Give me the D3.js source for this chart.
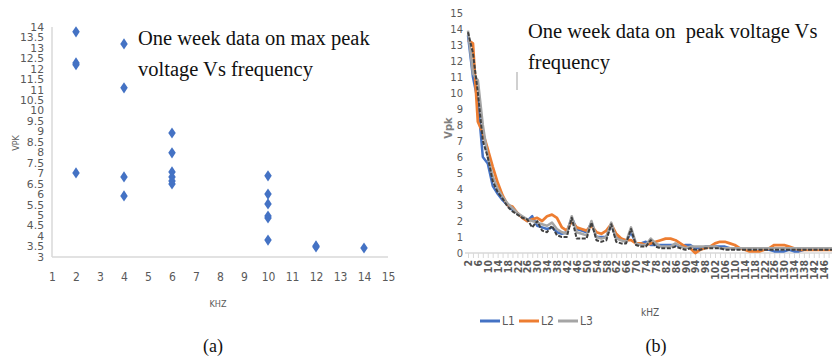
<!DOCTYPE html>
<html>
<head>
<meta charset="utf-8">
<script src="https://cdn.jsdelivr.net/npm/d3@7"></script>
<style>
  body { margin: 0; background: #fff; }
  svg { display: block; }
  .axis text { fill: #595959; }
</style>
</head>
<body>
<div class="chart"></div>
<script>
// (a) scatter: max peak voltage per frequency
const freqA = [2, 2, 2, 2, 4, 4, 4, 4, 6, 6, 6, 6, 6, 6, 10, 10, 10, 10, 10, 10, 12, 12, 14];
const vpkA = [13.77, 12.28, 12.2, 7.02, 13.19, 11.09, 6.83, 5.92, 8.93, 7.98, 7.07, 6.83, 6.64, 6.49,
              6.88, 6.01, 5.54, 4.96, 4.87, 3.81, 3.53, 3.48, 3.43];
const xTicksA = [1, 2, 3, 4, 5, 6, 7, 8, 9, 10, 11, 12, 13, 14, 15];
const yTicksA = [3, 3.5, 4, 4.5, 5, 5.5, 6, 6.5, 7, 7.5, 8, 8.5, 9, 9.5, 10, 10.5, 11, 11.5, 12, 12.5, 13, 13.5, 14];

// (b) lines: peak voltage vs frequency
const freqB = [2, 4, 6, 8, 10, 12, 14, 16, 18, 20, 22, 24, 26, 28, 30, 32, 34, 36, 38, 40,
               42, 44, 46, 48, 50, 52, 54, 56, 58, 60, 62, 64, 66, 68, 70, 72, 74, 76, 78, 80,
               82, 84, 86, 88, 90, 92, 94, 96, 98, 100, 102, 104, 106, 108, 110, 112, 114, 116, 118, 120,
               122, 124, 126, 128, 130, 132, 134, 136, 138, 140, 142, 144, 146, 148, 150];
const l1 = [13.6, 11.0, 9.5, 6.0, 5.6, 4.2, 3.7, 3.3, 3.0, 2.7,
            2.5, 2.2, 2.0, 2.3, 1.7, 1.6, 1.5, 1.6, 1.3, 1.2,
            1.3, 2.2, 1.5, 1.4, 1.3, 1.9, 1.0, 1.0, 1.0, 1.8,
            0.9, 0.9, 0.7, 1.3, 0.6, 0.6, 0.7, 0.5, 0.5, 0.5,
            0.5, 0.5, 0.5, 0.4, 0.5, 0.5, 0.3, 0.3, 0.4, 0.4,
            0.4, 0.4, 0.4, 0.3, 0.3, 0.3, 0.3, 0.3, 0.3, 0.3,
            0.2, 0.2, 0.1, 0.1, 0.1, 0.2, 0.1, 0.1, 0.2, 0.2,
            0.2, 0.2, 0.2, 0.2, 0.2];
const l2 = [13.3, 13.1, 8.2, 7.5, 6.5, 5.4, 4.4, 3.6, 3.0, 2.9,
            2.5, 2.2, 2.0, 2.1, 2.2, 2.0, 2.3, 2.4, 2.2, 1.6,
            1.4, 2.0, 1.6, 1.5, 1.4, 1.7, 1.3, 1.2, 1.4, 1.8,
            1.2, 0.9, 0.8, 0.8, 0.6, 0.6, 0.5, 0.6, 0.7, 0.8,
            0.9, 0.9, 0.8, 0.6, 0.4, 0.3, 0.0, 0.2, 0.3, 0.4,
            0.6, 0.7, 0.7, 0.6, 0.5, 0.3, 0.2, 0.1, 0.1, 0.1,
            0.2, 0.3, 0.5, 0.5, 0.5, 0.4, 0.3, 0.2, 0.2, 0.2,
            0.2, 0.2, 0.2, 0.2, 0.2];
const l3 = [13.9, 11.2, 10.8, 8.0, 6.0, 4.8, 4.0, 3.5, 3.1, 2.8,
            2.5, 2.3, 2.1, 2.0, 1.9, 1.8, 1.7, 1.9, 1.5, 1.3,
            1.2, 2.3, 1.3, 1.2, 1.1, 2.0, 1.0, 0.9, 1.0, 1.9,
            0.9, 0.8, 0.7, 1.6, 0.6, 0.5, 0.5, 0.9, 0.6, 0.4,
            0.4, 0.4, 0.6, 0.4, 0.3, 0.4, 0.4, 0.4, 0.4, 0.4,
            0.4, 0.3, 0.3, 0.3, 0.3, 0.3, 0.3, 0.3, 0.3, 0.3,
            0.3, 0.3, 0.3, 0.3, 0.3, 0.3, 0.3, 0.3, 0.3, 0.3,
            0.3, 0.3, 0.3, 0.3, 0.3];
const l4 = [13.8, 12.5, 10.0, 7.0, 6.0, 4.5, 3.8, 3.4, 2.9, 2.6,
            2.4, 2.2, 2.1, 1.6, 2.0, 1.4, 1.3, 1.7, 1.1, 1.0,
            1.0, 2.2, 0.9, 0.9, 0.9, 1.9, 0.8, 0.7, 0.8, 1.8,
            0.7, 0.6, 0.6, 1.5, 0.5, 0.4, 0.4, 0.8, 0.4, 0.3,
            0.3, 0.3, 0.4, 0.3, 0.2, 0.3, 0.2, 0.2, 0.3, 0.3,
            0.3, 0.3, 0.2, 0.2, 0.2, 0.2, 0.2, 0.2, 0.2, 0.2,
            0.2, 0.2, 0.2, 0.2, 0.2, 0.2, 0.2, 0.2, 0.2, 0.2,
            0.2, 0.2, 0.2, 0.2, 0.2];
const xTicksB = [2, 6, 10, 14, 18, 22, 26, 30, 34, 38, 42, 46, 50, 54, 58, 62, 66, 70, 74, 78,
                 82, 86, 90, 94, 98, 102, 106, 110, 114, 118, 122, 126, 130, 134, 138, 142, 146];
const yTicksB = [0, 1, 2, 3, 4, 5, 6, 7, 8, 9, 10, 11, 12, 13, 14, 15];
const seriesNames = ["L1", "L2", "L3"];

const W = 832, H = 360;
const serif = "'Liberation Serif', 'Times New Roman', serif";
const narrow = "'Liberation Sans Narrow', 'DejaVu Sans Condensed', 'Liberation Sans', sans-serif";

const svg = d3.select('.chart').append('svg')
    .attr('width', W)
    .attr('height', H);

// ---------- (a) ----------
const xA = d3.scaleLinear().domain([1, 15]).range([52, 388]);
const yA = d3.scaleLinear().domain([3, 14]).range([257, 27]);

svg.append('line')
    .attr('x1', xA(1)).attr('x2', xA(1))
    .attr('y1', yA(14)).attr('y2', yA(3))
    .attr('stroke', '#d9d9d9').attr('stroke-width', 1.5);
svg.append('line')
    .attr('x1', xA(1)).attr('x2', xA(15))
    .attr('y1', yA(3)).attr('y2', yA(3))
    .attr('stroke', '#d9d9d9').attr('stroke-width', 1.5);

svg.append('g').attr('class', 'axis')
    .attr('transform', `translate(0,${yA(3)})`)
    .call(d3.axisBottom(xA).tickValues(xTicksA).tickSize(0).tickPadding(15))
    .call(g => g.select('.domain').remove())
    .call(g => g.selectAll('text').style('font', `12px ${narrow}`));

svg.append('g').attr('class', 'axis')
    .attr('transform', `translate(${xA(1)},0)`)
    .call(d3.axisLeft(yA).tickValues(yTicksA).tickSize(0).tickPadding(8).tickFormat(d3.format('~g')))
    .call(g => g.select('.domain').remove())
    .call(g => g.selectAll('text').style('font', `12px ${narrow}`)
        .attr('transform', 'scale(1,0.85)'));

svg.append('g')
    .selectAll('path')
    .data(freqA.map((f, i) => ({f, v: vpkA[i]})))
    .join('path')
    .attr('transform', d => `translate(${xA(d.f)},${yA(d.v)}) scale(1.1,0.95)`)
    .attr('d', d3.symbol(d3.symbolDiamond, 40))
    .attr('fill', '#4472c4');

svg.append('text')
    .attr('transform', 'translate(19,143) rotate(-90)')
    .attr('text-anchor', 'middle')
    .style('font', `9px ${narrow}`).attr('fill', '#595959')
    .text('VPK');
svg.append('text')
    .attr('x', 218).attr('y', 307)
    .attr('text-anchor', 'middle')
    .style('font', `9px ${narrow}`).attr('fill', '#595959')
    .text('KHZ');

svg.append('text')
    .attr('x', 138).attr('y', 45)
    .style('font', `20.5px ${serif}`).attr('fill', '#111')
    .text('One week data on max peak');
svg.append('text')
    .attr('x', 138).attr('y', 76)
    .style('font', `20.5px ${serif}`).attr('fill', '#111')
    .text('voltage Vs frequency');
svg.append('text')
    .attr('x', 213).attr('y', 352)
    .attr('text-anchor', 'middle')
    .style('font', `18px ${serif}`).attr('fill', '#111')
    .text('(a)');

// ---------- (b) ----------
const xB = d3.scalePoint().domain(freqB).range([468, 468 + 148 * 2.47]);
const yB = d3.scaleLinear().domain([0, 15]).range([253, 13]);

svg.append('line')
    .attr('x1', 465).attr('x2', W)
    .attr('y1', yB(0)).attr('y2', yB(0))
    .attr('stroke', '#d9d9d9').attr('stroke-width', 1.5);

svg.append('g').attr('class', 'axis')
    .attr('transform', `translate(0,${yB(0)})`)
    .call(d3.axisBottom(xB).tickValues(freqB).tickSize(5).tickFormat(''))
    .call(g => g.select('.domain').remove())
    .call(g => g.selectAll('line').attr('stroke', '#d9d9d9'));

svg.append('g').attr('class', 'axis')
    .attr('transform', `translate(0,${yB(0)})`)
    .call(d3.axisBottom(xB).tickValues(xTicksB).tickSize(0))
    .call(g => g.select('.domain').remove())
    .call(g => g.selectAll('text')
        .style('font', `bold 10.5px ${narrow}`)
        .attr('text-anchor', 'end')
        .attr('dy', '0.35em')
        .attr('transform', 'translate(0,5) rotate(-90)')
        .attr('x', -2).attr('y', 0));

svg.append('g').attr('class', 'axis')
    .attr('transform', 'translate(463,0)')
    .call(d3.axisLeft(yB).tickValues(yTicksB).tickSize(0).tickPadding(0))
    .call(g => g.select('.domain').remove())
    .call(g => g.selectAll('text').style('font', `13px ${narrow}`)
        .attr('transform', 'scale(0.85,0.8)'));

const lineB = d3.line()
    .x((d, i) => xB(freqB[i]))
    .y(d => yB(d));

const seriesB = [
    {name: 'L1', values: l1, color: '#4472c4', width: 2.5},
    {name: 'L2', values: l2, color: '#ed7d31', width: 2.75},
    {name: 'L3', values: l3, color: '#a5a5a5', width: 2.5},
    {name: 'L4', values: l4, color: '#404040', width: 2}
];

svg.append('g')
    .selectAll('path')
    .data(seriesB)
    .join('path')
    .attr('d', d => lineB(d.values))
    .attr('fill', 'none')
    .attr('stroke', d => d.color)
    .attr('stroke-width', d => d.width)
    .attr('stroke-linejoin', 'round')
    .attr('stroke-dasharray', d => d.name === 'L4' ? '4,1.5' : null);

const legend = svg.append('g')
    .selectAll('g')
    .data(seriesB.filter(s => seriesNames.includes(s.name)))
    .join('g')
    .attr('transform', (d, i) => `translate(${480 + i * 39},321)`);
legend.append('line')
    .attr('x1', 0).attr('x2', 20)
    .attr('stroke', d => d.color).attr('stroke-width', 3);
legend.append('text')
    .attr('x', 22).attr('dy', '0.35em')
    .style('font', `12px ${narrow}`).attr('fill', '#595959')
    .text(d => d.name);

svg.append('text')
    .attr('transform', 'translate(452,128) rotate(-90)')
    .attr('text-anchor', 'middle')
    .style('font', `bold 11px ${narrow}`).attr('fill', '#7f7f7f')
    .text('Vpk');
svg.append('text')
    .attr('x', 650).attr('y', 316)
    .attr('text-anchor', 'middle')
    .style('font', `10px ${narrow}`).attr('fill', '#595959')
    .text('kHZ');

svg.append('rect')
    .attr('x', 516).attr('y', 72).attr('width', 2).attr('height', 18)
    .attr('fill', '#d0d0d0');

svg.append('text')
    .attr('x', 528).attr('y', 38)
    .attr('xml:space', 'preserve')
    .style('white-space', 'pre')
    .style('font', `20.5px ${serif}`).attr('fill', '#111')
    .text('One week data on  peak voltage Vs');
svg.append('text')
    .attr('x', 528).attr('y', 69)
    .style('font', `20.5px ${serif}`).attr('fill', '#111')
    .text('frequency');
svg.append('text')
    .attr('x', 656).attr('y', 352)
    .attr('text-anchor', 'middle')
    .style('font', `18px ${serif}`).attr('fill', '#111')
    .text('(b)');
</script>
</body>
</html>
